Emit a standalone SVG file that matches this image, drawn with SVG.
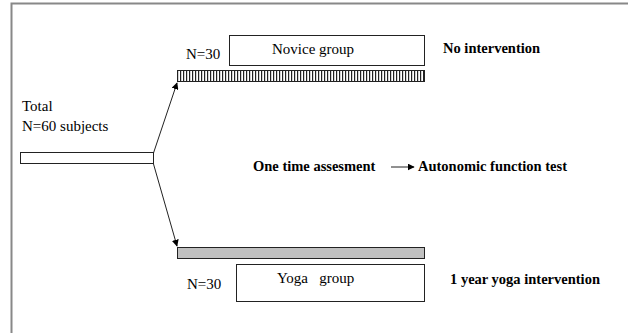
<svg xmlns="http://www.w3.org/2000/svg" width="628" height="333" viewBox="0 0 628 333">
<defs>
<pattern id="hatch" x="177" y="0" width="3" height="12" patternUnits="userSpaceOnUse">
<rect x="0" y="0" width="3" height="12" fill="#fff"/>
<rect x="0" y="0" width="1.2" height="12" fill="#222"/>
</pattern>
<marker id="ah" viewBox="0 0 10 10" refX="9" refY="5" markerWidth="7" markerHeight="7" orient="auto" markerUnits="userSpaceOnUse">
<path d="M0,0 L10,5 L0,10 z" fill="#000"/>
</marker>
<style>
.t{font-family:"Liberation Serif","Times New Roman",serif;font-size:15px;fill:#000}
.b{font-family:"Liberation Serif","Times New Roman",serif;font-size:14.5px;font-weight:bold;fill:#000}
.box{fill:#fff;stroke:#222;stroke-width:1}
.ln{stroke:#222;stroke-width:1;fill:none}
</style>
</defs>
<rect width="628" height="333" fill="#fff"/>
<g id="frame">
<path d="M628,3.5 H11.5 V333" fill="none" stroke="#888" stroke-width="2"/>
</g>
<g id="total">
<text class="t" x="22" y="111">Total</text>
<text class="t" x="22" y="131">N=60 subjects</text>
<rect class="box" x="20.5" y="152.5" width="133" height="11"/>
</g>
<g id="novice">
<text class="t" x="186" y="59">N=30</text>
<rect class="box" x="229.5" y="35.5" width="195" height="30"/>
<text class="t" x="272" y="54">Novice group</text>
<rect x="177.5" y="70.5" width="247" height="11" fill="url(#hatch)" stroke="#222"/>
<text class="b" x="443" y="53">No intervention</text>
</g>
<g id="yoga">
<rect x="177.5" y="247.5" width="247" height="11" fill="#c0c0c0" stroke="#222"/>
<rect class="box" x="236.5" y="264.5" width="188" height="37"/>
<text class="t" x="277" y="283" xml:space="preserve">Yoga   group</text>
<text class="t" x="187" y="289">N=30</text>
<text class="b" x="450" y="284">1 year yoga intervention</text>
</g>
<g id="assessment">
<text class="b" x="253" y="171">One time assesment</text>
<text class="b" x="418" y="171">Autonomic function test</text>
</g>
<g id="connectors">
<line class="ln" x1="153.5" y1="153" x2="177" y2="83" marker-end="url(#ah)"/>
<line class="ln" x1="153.5" y1="164" x2="177" y2="246" marker-end="url(#ah)"/>
<line class="ln" x1="391" y1="167" x2="414" y2="167" marker-end="url(#ah)"/>
</g>
</svg>
